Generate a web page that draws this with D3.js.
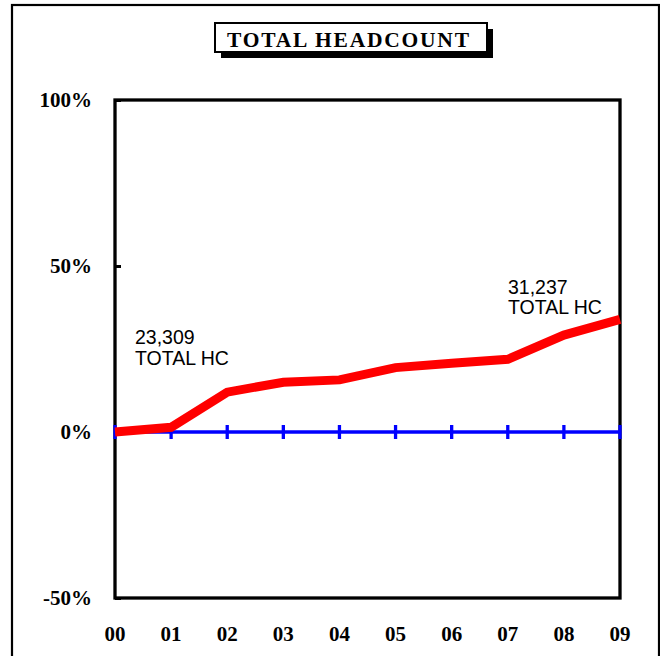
<!DOCTYPE html>
<html>
<head>
<meta charset="utf-8">
<script src="https://cdn.jsdelivr.net/npm/d3@7"></script>
<style>
  html, body { margin: 0; padding: 0; background: #fff; }
  svg { display: block; }
</style>
</head>
<body>
<div id="chart"></div>
<script>
// ---- data ----
const years = ["00", "01", "02", "03", "04", "05", "06", "07", "08", "09"];
const growthPct = [0, 1.4, 12, 15, 15.7, 19.4, 20.7, 21.9, 29.2, 33.9];
const baselinePct = [0, 0, 0, 0, 0, 0, 0, 0, 0, 0];
const yTicks = [-50, 0, 50, 100];
const yTickLabels = ["-50%", "0%", "50%", "100%"];
const title = "TOTAL HEADCOUNT";
const startLabel = ["23,309", "TOTAL HC"];
const endLabel = ["31,237", "TOTAL HC"];

// ---- layout ----
const W = 660, H = 656;
const plot = { left: 115, right: 620, top: 100, bottom: 598 };

const svg = d3.select("#chart").append("svg")
  .attr("width", W).attr("height", H);

// outer frame
svg.append("rect")
  .attr("x", 12).attr("y", 5)
  .attr("width", 647).attr("height", 680)
  .attr("fill", "none").attr("stroke", "#000").attr("stroke-width", 2.2);

const x = d3.scalePoint().domain(years).range([plot.left, plot.right]);
const y = d3.scaleLinear().domain([-50, 100]).range([plot.bottom, plot.top]);

// plot frame
svg.append("rect")
  .attr("x", plot.left).attr("y", plot.top)
  .attr("width", plot.right - plot.left).attr("height", plot.bottom - plot.top)
  .attr("fill", "none").attr("stroke", "#000").attr("stroke-width", 3.3);

// y axis (ticks inside)
const yAxis = d3.axisRight(y).tickValues(yTicks).tickSize(6).tickFormat("");
const yg = svg.append("g").attr("transform", `translate(${plot.left},0)`).call(yAxis);
yg.select(".domain").remove();
yg.selectAll("line").attr("stroke", "#000").attr("stroke-width", 3);

// y tick labels
svg.append("g").selectAll("text").data(yTicks).join("text")
  .attr("x", 92).attr("y", d => y(d) + 7)
  .attr("text-anchor", "end")
  .attr("font-family", "'Liberation Serif', 'Times New Roman', serif")
  .attr("font-weight", "bold").attr("font-size", 21)
  .text((d, i) => yTickLabels[i]);

// x labels
svg.append("g").selectAll("text").data(years).join("text")
  .attr("x", d => x(d)).attr("y", 641)
  .attr("text-anchor", "middle")
  .attr("font-family", "'Liberation Serif', 'Times New Roman', serif")
  .attr("font-weight", "bold").attr("font-size", 21)
  .text(d => d);

// blue baseline with ticks
const line = d3.line().x((d, i) => x(years[i])).y(d => y(d));
svg.append("path").datum(baselinePct)
  .attr("d", line).attr("fill", "none")
  .attr("stroke", "#0000ff").attr("stroke-width", 3.3);
svg.append("g").selectAll("line").data(baselinePct).join("line")
  .attr("x1", (d, i) => x(years[i])).attr("x2", (d, i) => x(years[i]))
  .attr("y1", d => y(d) - 7).attr("y2", d => y(d) + 7)
  .attr("stroke", "#0000ff").attr("stroke-width", 3.3);

// red series
svg.append("path").datum(growthPct)
  .attr("d", line).attr("fill", "none")
  .attr("stroke", "#ff0000").attr("stroke-width", 9)
  .attr("stroke-linejoin", "miter");

// annotations
function annot(lines, x0, y0) {
  const t = svg.append("text")
    .attr("font-family", "'Liberation Sans', Arial, sans-serif")
    .attr("font-size", 19.5).attr("fill", "#000");
  lines.forEach((s, i) => t.append("tspan").attr("x", x0).attr("y", y0 + i * 20.5).text(s));
}
annot(startLabel, 135, 344);
annot(endLabel, 508, 293.5);

// title box with shadow
const tb = { x: 215, y: 23, w: 272, h: 29 };
svg.append("rect").attr("x", tb.x + 6).attr("y", tb.y + 6)
  .attr("width", tb.w).attr("height", tb.h).attr("fill", "#000");
svg.append("rect").attr("x", tb.x).attr("y", tb.y)
  .attr("width", tb.w).attr("height", tb.h)
  .attr("fill", "#fff").attr("stroke", "#000").attr("stroke-width", 2);
svg.append("text")
  .attr("x", 227).attr("y", 46.5)
  .attr("font-family", "'Liberation Serif', 'Times New Roman', serif")
  .attr("font-weight", "bold").attr("font-size", 21.5)
  .attr("textLength", 242).attr("lengthAdjust", "spacing")
  .text(title);
</script>
</body>
</html>
